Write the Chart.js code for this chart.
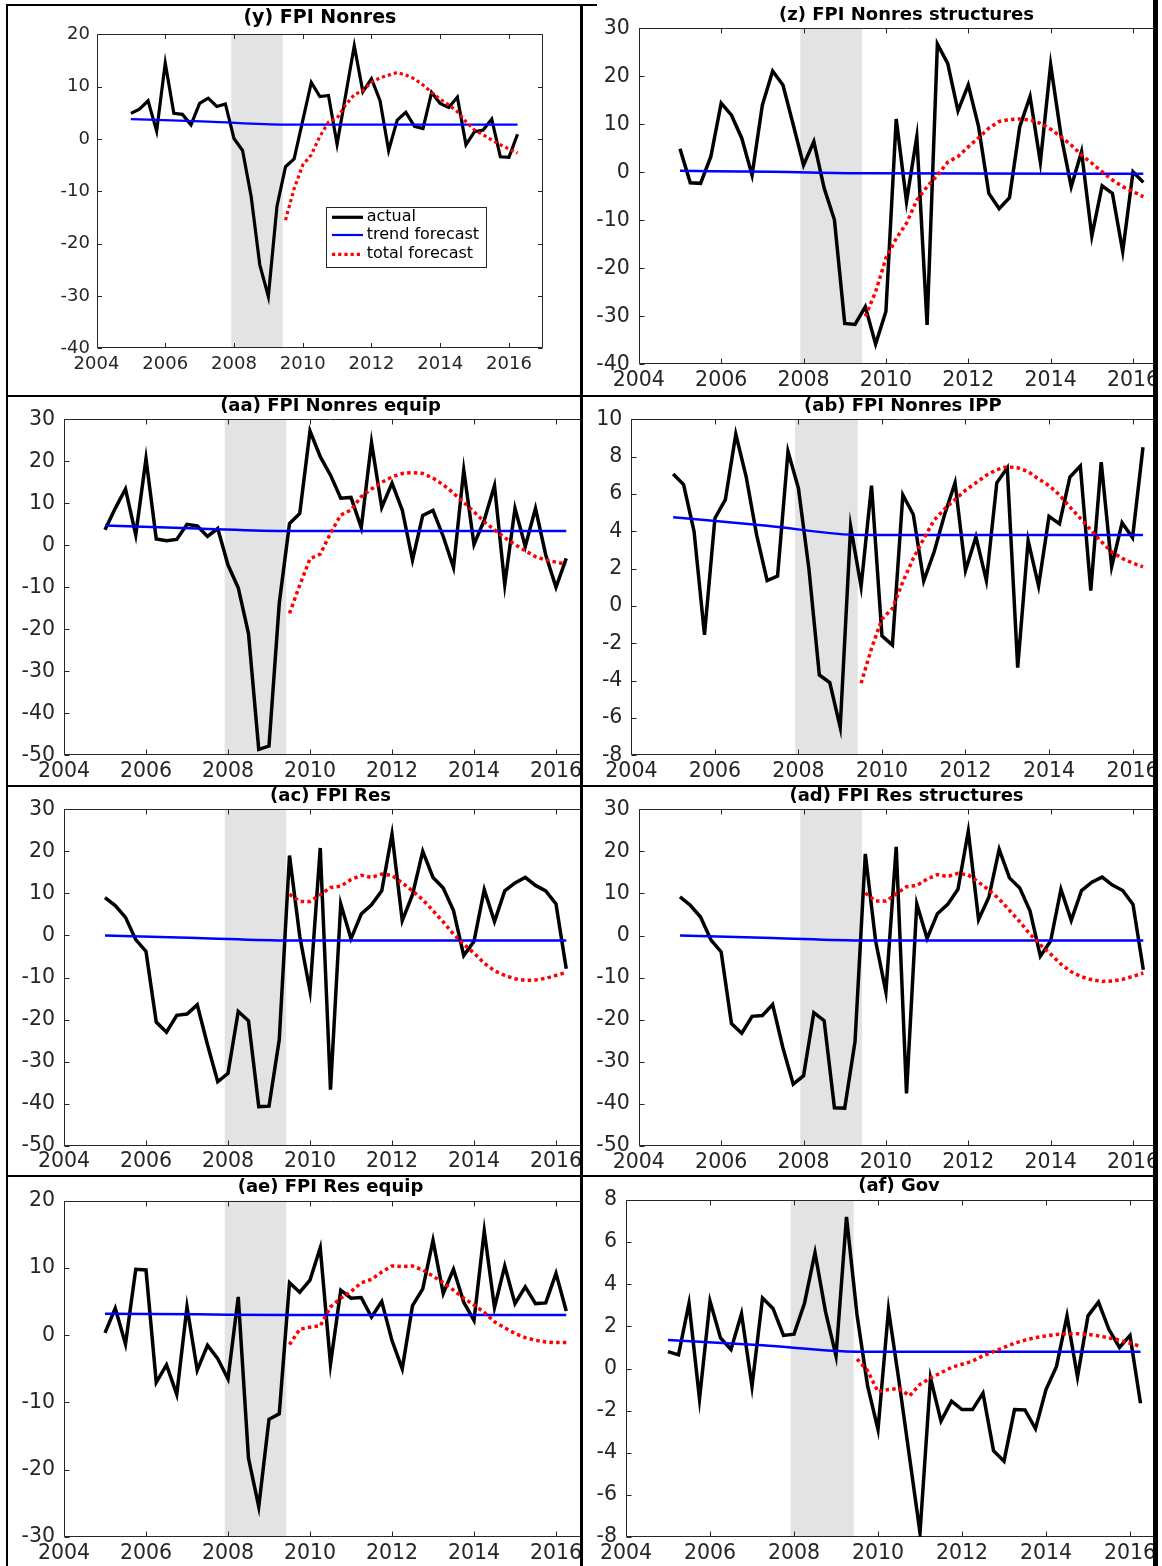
<!DOCTYPE html>
<html><head><meta charset="utf-8">
<script src="https://cdn.jsdelivr.net/npm/chart.js@4.4.1/dist/chart.umd.min.js"></script>
<style>
html,body{margin:0;padding:0;background:#fff;}
body{width:1162px;height:1566px;position:relative;overflow:hidden;}
.cell{position:absolute;overflow:hidden;}
.cell canvas{position:absolute;left:0;top:0;}
.rule{position:absolute;background:#000;}
</style></head><body>
<div class="rule" style="left:6px;top:4px;width:591px;height:2px"></div>
<div class="rule" style="left:6px;top:4px;width:2px;height:1562px"></div>
<div class="rule" style="left:580px;top:4px;width:3px;height:1562px"></div>
<div class="rule" style="left:1153px;top:0px;width:5px;height:1566px"></div>
<div class="rule" style="left:6px;top:395px;width:1152px;height:2px"></div>
<div class="rule" style="left:6px;top:785px;width:1152px;height:2px"></div>
<div class="rule" style="left:6px;top:1175px;width:1152px;height:2px"></div>
<script>
// ---------- categories ----------
const quarters = Array.from({length: 46}, (_, i) => 2005 + i * 0.25); // 2005Q1 .. 2016Q2
const forecastQuarters = quarters.slice(18);                            // 2009Q3 .. 2016Q2
const trendQuarters = [2005, 2007.25, 2009.5, 2016.25];
const recession = [2007.92, 2009.42];
const seriesNames = ['actual', 'trend forecast', 'total forecast'];
const xRange = [2004, 2017, 2];

// ---------- (y) FPI Nonres ----------
const titleY = '(y) FPI Nonres';
const rangeY = [-40, 20, 10];
const actualY = [4.9,5.7,7.3,1.5,14.5,4.9,4.7,2.7,6.8,7.8,6.2,6.7,0.1,-2.2,-11,-24,-30.1,-12.9,-5.3,-3.8,3.5,10.8,8.1,8.3,-1.0,8.4,17.8,9.0,11.5,7.3,-2.2,3.6,5.1,2.4,2.0,8.9,6.8,6.0,8.0,-1.1,1.4,1.7,3.8,-3.4,-3.5,0.9];
const trendY = [3.8,3.3,2.75,2.75];
const totalY = [-15.5,-9.5,-5,-3,0.5,3.2,4,6.5,8.5,9.2,10.8,11.7,12.2,12.7,12.2,11.5,10.3,8.9,7.6,6.5,5.2,3.3,1.7,0.8,-0.2,-1.1,-1.9,-2.7];

// ---------- (z) FPI Nonres structures ----------
const titleZ = '(z) FPI Nonres structures';
const rangeZ = [-40, 30, 10];
const actualZ = [4.9,-2.2,-2.3,3.3,14.4,11.9,7.1,-0.6,14.0,21.1,18.2,9.9,1.5,6.4,-3.3,-9.9,-31.5,-31.7,-28,-35.8,-29,11.1,-6.1,7.4,-31.8,26.7,22.7,12.8,18.2,9.5,-4.4,-7.6,-5.3,9.5,15.8,2.1,22.4,7.8,-3.0,4.3,-13.3,-2.8,-4.4,-16.5,0.1,-2.1];
const trendZ = [0.3,0.1,-0.2,-0.3];
const totalZ = [-30,-24.9,-17.9,-13.8,-10.6,-5.8,-3,-0.6,2.1,3.3,5.3,7.2,9.2,10.6,11.0,11.1,10.9,10.2,9.0,7.4,5.7,3.6,1.9,0.1,-1.6,-3,-4,-5.1];

// ---------- (aa) FPI Nonres equip ----------
const titleAA = '(aa) FPI Nonres equip';
const rangeAA = [-50, 30, 10];
const actualAA = [3.7,8.8,13.4,2.5,20.6,1.5,1.1,1.4,5.0,4.6,2.1,4.0,-4.7,-10.1,-21,-48.6,-47.8,-13.8,5.2,7.6,27.2,21.1,16.7,11.2,11.4,4.2,24.5,9.0,14.8,8.4,-3.5,7.1,8.3,2.1,-5.3,17.9,0.2,6.0,14.2,-9.4,8.8,-0.3,8.8,-2.3,-10,-3.1];
const trendAA = [4.7,4.0,3.4,3.4];
const totalAA = [-16.2,-9.5,-3.2,-2.1,2.9,7.2,8.4,11.6,13.4,15,16.3,17.1,17.3,17.1,16,14.4,12.4,10.2,8,5.6,3.7,1.8,0.2,-1.3,-2.7,-3.5,-4,-4.5];

// ---------- (ab) FPI Nonres IPP ----------
const titleAB = '(ab) FPI Nonres IPP';
const rangeAB = [-8, 10, 2];
const actualAB = [7.07,6.5,4.0,-1.55,4.7,5.7,9.2,6.9,3.8,1.36,1.6,8.27,6.3,2.0,-3.7,-4.1,-6.5,4.25,1.04,6.45,-1.6,-2.1,5.95,4.9,1.34,2.9,4.9,6.6,1.9,3.7,1.36,6.6,7.4,-3.3,3.5,1.07,4.8,4.4,6.9,7.5,0.82,7.7,2.1,4.46,3.66,8.5];
const trendAB = [4.75,4.3,3.8,3.8];
const totalAB = [-4.14,-2.27,-0.7,-0.13,1.3,2.55,3.6,4.6,5.2,5.7,6.2,6.6,7.0,7.3,7.46,7.4,7.2,6.8,6.45,5.95,5.3,4.7,4.07,3.45,2.9,2.55,2.3,2.1];

// ---------- (ac) FPI Res ----------
const titleAC = '(ac) FPI Res';
const rangeAC = [-50, 30, 10];
const actualAC = [9.0,7.1,4.3,-1.0,-3.8,-20.6,-23,-19,-18.7,-16.5,-26,-34.8,-32.8,-18.1,-20.3,-40.7,-40.6,-24.8,19,-0.2,-13.2,20.8,-36.7,7.5,-0.8,5.1,7.3,10.6,24.1,3.5,9.7,20,13.8,11.3,5.9,-4.8,-1.4,10.9,3.3,10.6,12.5,13.8,11.9,10.6,7.5,-7.9];
const trendAC = [0.0,-0.6,-1.2,-1.2];
const totalAC = [9.8,8.1,8.1,9.7,11.4,11.7,13.3,14.3,13.8,14.6,14.3,12.5,10.6,8.5,5.9,3.2,0.3,-2.1,-4.2,-6.6,-8.4,-9.5,-10.3,-10.7,-10.6,-10.2,-9.5,-8.8];

// ---------- (ad) FPI Res structures ----------
const titleAD = '(ad) FPI Res structures';
const rangeAD = [-50, 30, 10];
const actualAD = [9.2,7.2,4.4,-1.0,-3.9,-20.9,-23.2,-19.2,-19.0,-16.4,-26.7,-35.3,-33.3,-18.3,-20.2,-40.9,-41,-25.2,19.4,-1.3,-13.4,21.1,-37.5,7.5,-0.7,5.2,7.4,11,24.8,3.8,9.1,20.5,13.7,11.3,5.8,-4.9,-1.3,11,3.6,10.7,12.7,13.9,12.0,10.7,7.4,-8.1];
const trendAD = [0.0,-0.6,-1.2,-1.2];
const totalAD = [10.1,8.2,8.2,9.9,11.6,11.9,13.4,14.5,14.0,14.8,14.4,12.7,10.8,8.7,6.0,3.3,0.3,-2.2,-4.4,-6.8,-8.6,-9.8,-10.5,-10.9,-10.8,-10.4,-9.7,-8.9];

// ---------- (ae) FPI Res equip ----------
const titleAE = '(ae) FPI Res equip';
const rangeAE = [-30, 20, 10];
const actualAE = [0.35,4.0,-1.3,9.8,9.7,-7.0,-4.4,-8.8,4.2,-5.2,-1.5,-3.5,-6.5,5.7,-18.3,-25.5,-12.5,-11.7,7.8,6.4,8.2,13.0,-4.3,6.7,5.5,5.6,2.7,5.0,-0.8,-5.0,4.4,6.9,14.1,6.2,9.8,4.9,2.2,15.5,4.1,10.3,4.7,7.2,4.7,4.8,9.2,3.6];
const trendAE = [3.2,3.1,3.0,3.0];
const totalAE = [-1.4,0.9,1.2,1.4,4.2,5.5,6.5,7.8,8.3,9.4,10.3,10.2,10.3,9.7,8.8,7.8,6.7,5.5,4.5,3.4,2.0,1.1,0.25,-0.35,-0.75,-1.0,-1.1,-1.1];

// ---------- (af) Gov ----------
const titleAF = '(af) Gov';
const rangeAF = [-8, 8, 2];
const actualAF = [0.8,0.65,3.1,-1.45,3.2,1.45,0.9,2.6,-0.85,3.35,2.85,1.57,1.63,3.1,5.5,2.7,0.6,7.2,2.55,-0.8,-2.9,2.8,-0.6,-4.2,-7.8,-0.45,-2.5,-1.55,-1.95,-1.95,-1.17,-3.9,-4.4,-1.95,-1.97,-2.86,-1.0,0.1,2.5,-0.4,2.5,3.15,1.85,1.0,1.57,-1.65];
const trendAF = [1.35,1.1,0.8,0.8];
const totalAF = [0.45,-0.1,-1.1,-1.0,-0.95,-1.3,-0.75,-0.45,-0.2,0.05,0.2,0.35,0.6,0.8,1.0,1.2,1.35,1.47,1.55,1.62,1.65,1.65,1.62,1.55,1.45,1.35,1.2,1.05];

// ---------- layout (page pixels) ----------
const big = {font: 20.5, titleFont: 18, titleGap: 8.6, lw: 3.5, tw: 2.5, dash: [3.5, 3.2], tick: 5, ypad: 9, xpad: 4};
const panels = [
  {title: titleY,  range: rangeY,  actual: actualY,  trend: trendY,  total: totalY,  cell: [8, 6, 580, 395],    plot: [96.5, 34.3, 543.3, 348.3],
   font: 18, titleFont: 19, titleGap: 11.1, lw: 3.2, tw: 2.2, dash: [3.2, 3], tick: 4.5, ypad: 6.5, xpad: 5,
   legend: {box: [325.7, 206.7, 486, 266.7], rows: [217.3, 235, 254.3], line: [332, 363], text: 366.7, font: 16}},
  Object.assign({title: titleZ,  range: rangeZ,  actual: actualZ,  trend: trendZ,  total: totalZ,  cell: [583, 0, 1153, 395],   plot: [638.8, 28.3, 1174.2, 364.3]}, big),
  Object.assign({title: titleAA, range: rangeAA, actual: actualAA, trend: trendAA, total: totalAA, cell: [8, 397, 580, 785],   plot: [64, 419.3, 597, 755.3]}, big),
  Object.assign({title: titleAB, range: rangeAB, actual: actualAB, trend: trendAB, total: totalAB, cell: [583, 397, 1153, 785], plot: [631.4, 419.3, 1174.3, 755.3]}, big),
  Object.assign({title: titleAC, range: rangeAC, actual: actualAC, trend: trendAC, total: totalAC, cell: [8, 787, 580, 1175],   plot: [64, 809.3, 597, 1145.7]}, big),
  Object.assign({title: titleAD, range: rangeAD, actual: actualAD, trend: trendAD, total: totalAD, cell: [583, 787, 1153, 1175], plot: [638.8, 809.3, 1174.2, 1146]}, big),
  Object.assign({title: titleAE, range: rangeAE, actual: actualAE, trend: trendAE, total: totalAE, cell: [8, 1177, 580, 1566],  plot: [64, 1200.7, 597, 1537]}, big),
  Object.assign({title: titleAF, range: rangeAF, actual: actualAF, trend: trendAF, total: totalAF, cell: [583, 1177, 1153, 1566], plot: [626, 1200, 1172, 1537]}, big)
];

Chart.defaults.font.family = '"DejaVu Sans", sans-serif';
Chart.defaults.color = '#262626';

const decoPlugin = {
  id: 'deco',
  beforeDatasetsDraw(chart, args, o) {
    const ctx = chart.ctx, ca = chart.chartArea, xs = chart.scales.x, ys = chart.scales.y;
    ctx.save();
    const x0 = xs.getPixelForValue(o.recession[0]), x1 = xs.getPixelForValue(o.recession[1]);
    ctx.fillStyle = '#e3e3e3';
    ctx.fillRect(x0, ca.top, x1 - x0, ca.bottom - ca.top);
    ctx.strokeStyle = '#262626';
    ctx.lineWidth = 1;
    const l = Math.round(ca.left) + 0.5, r = Math.round(ca.right) - 0.5;
    const t = Math.round(ca.top) + 0.5, b = Math.round(ca.bottom) - 0.5;
    ctx.beginPath();
    ctx.moveTo(l, t); ctx.lineTo(r, t); ctx.lineTo(r, b); ctx.lineTo(l, b); ctx.closePath();
    xs.ticks.forEach(tk => {
      const px = Math.round(xs.getPixelForValue(tk.value)) + 0.5;
      ctx.moveTo(px, b); ctx.lineTo(px, b - o.tick);
      ctx.moveTo(px, t); ctx.lineTo(px, t + o.tick);
    });
    ys.ticks.forEach(tk => {
      const py = Math.round(ys.getPixelForValue(tk.value)) + 0.5;
      ctx.moveTo(l, py); ctx.lineTo(l + o.tick, py);
      ctx.moveTo(r, py); ctx.lineTo(r - o.tick, py);
    });
    ctx.stroke();
    ctx.restore();
  },
  afterDraw(chart, args, o) {
    const ctx = chart.ctx, ca = chart.chartArea;
    ctx.save();
    ctx.fillStyle = '#000';
    ctx.font = 'bold ' + o.titleFont + 'px "DejaVu Sans", sans-serif';
    ctx.textAlign = 'center';
    ctx.textBaseline = 'alphabetic';
    ctx.fillText(o.title, (ca.left + ca.right) / 2, ca.top - o.titleGap);
    if (o.legend) {
      const L = o.legend, ox = o.origin[0], oy = o.origin[1];
      ctx.fillStyle = '#fff';
      ctx.fillRect(L.box[0] - ox, L.box[1] - oy, L.box[2] - L.box[0], L.box[3] - L.box[1]);
      ctx.strokeStyle = '#262626';
      ctx.lineWidth = 1;
      ctx.strokeRect(Math.round(L.box[0] - ox) + 0.5, Math.round(L.box[1] - oy) + 0.5,
                     Math.round(L.box[2] - L.box[0]), Math.round(L.box[3] - L.box[1]));
      chart.data.datasets.forEach((ds, i) => {
        const y = L.rows[i] - oy;
        ctx.save();
        ctx.strokeStyle = ds.borderColor;
        ctx.lineWidth = ds.borderWidth;
        ctx.setLineDash(ds.borderDash || []);
        ctx.beginPath();
        ctx.moveTo(L.line[0] - ox, y); ctx.lineTo(L.line[1] - ox, y);
        ctx.stroke();
        ctx.restore();
        ctx.fillStyle = '#000';
        ctx.font = L.font + 'px "DejaVu Sans", sans-serif';
        ctx.textAlign = 'left';
        ctx.textBaseline = 'middle';
        ctx.fillText(ds.label, L.text - ox, y);
      });
    }
    ctx.restore();
  }
};

panels.forEach(p => {
  const [cx0, cy0, cx1, cy1] = p.cell;
  const [L, T, R, B] = p.plot;
  const div = document.createElement('div');
  div.className = 'cell';
  div.style.left = cx0 + 'px'; div.style.top = cy0 + 'px';
  div.style.width = (cx1 - cx0) + 'px'; div.style.height = (cy1 - cy0) + 'px';
  document.body.appendChild(div);
  const cw = Math.ceil(R + 6 - cx0);
  const ch = Math.min(Math.ceil(B + 32 - cy0), cy1 - cy0);
  const cv = document.createElement('canvas');
  cv.width = cw; cv.height = ch;
  cv.style.width = cw + 'px'; cv.style.height = ch + 'px';
  div.appendChild(cv);
  new Chart(cv, {
    type: 'line',
    data: {
      datasets: [
        {label: seriesNames[0], data: quarters.map((q, i) => ({x: q, y: p.actual[i]})),
         borderColor: '#000000', borderWidth: p.lw, pointRadius: 0, tension: 0, order: 3, borderJoinStyle: 'miter'},
        {label: seriesNames[1], data: trendQuarters.map((q, i) => ({x: q, y: p.trend[i]})),
         borderColor: '#0000ff', borderWidth: p.tw, pointRadius: 0, tension: 0.4, cubicInterpolationMode: 'monotone', order: 2},
        {label: seriesNames[2], data: forecastQuarters.map((q, i) => ({x: q, y: p.total[i]})),
         borderColor: '#ff0000', borderWidth: p.lw, borderDash: p.dash, borderCapStyle: 'butt', pointRadius: 0, tension: 0, order: 1}
      ]
    },
    options: {
      responsive: false, animation: false, devicePixelRatio: 1,
      layout: {padding: {left: 0, top: T - cy0, right: cw - (R - cx0), bottom: 0}},
      plugins: {
        legend: {display: false}, tooltip: {enabled: false}, title: {display: false},
        deco: {title: p.title, titleFont: p.titleFont, titleGap: p.titleGap, tick: p.tick,
               recession: recession, legend: p.legend || null, origin: [cx0, cy0]}
      },
      scales: {
        x: {type: 'linear', min: xRange[0], max: xRange[1],
            afterFit: s => { s.height = ch - (B - cy0); },
            ticks: {stepSize: xRange[2], includeBounds: false, autoSkip: false, maxRotation: 0, minRotation: 0,
                    font: {size: p.font}, color: '#262626', padding: p.xpad, callback: v => String(v)},
            grid: {display: false, drawTicks: false}, border: {display: false}},
        y: {type: 'linear', min: p.range[0], max: p.range[1],
            afterFit: s => { s.width = L - cx0; },
            ticks: {stepSize: p.range[2], includeBounds: false, autoSkip: false,
                    font: {size: p.font}, color: '#262626', padding: p.ypad, callback: v => String(v)},
            grid: {display: false, drawTicks: false}, border: {display: false}}
      }
    },
    plugins: [decoPlugin]
  });
});
</script>
</body></html>
